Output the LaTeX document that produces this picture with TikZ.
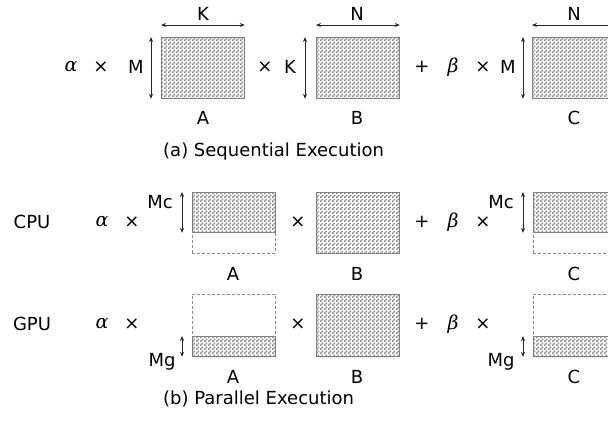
\documentclass[tikz,border=0pt]{standalone}
\usepackage{fontspec}
\setmainfont{DejaVu Sans}
\newfontfamily\greekfont{DejaVu Serif}
\usetikzlibrary{patterns,arrows.meta}

% fine checkerboard used to shade the matrix blocks
\pgfdeclarepatternformonly{finecheck}{\pgfpointorigin}{\pgfpoint{4pt}{4pt}}{\pgfpoint{4pt}{4pt}}{%
  \pgfpathrectangle{\pgfpointorigin}{\pgfpoint{2pt}{2pt}}%
  \pgfpathrectangle{\pgfpoint{2pt}{2pt}}{\pgfpoint{2pt}{2pt}}%
  \pgfusepath{fill}}

\tikzset{
  lbl/.style={font=\fontsize{18}{20}\selectfont, inner sep=0pt, anchor=base},
  sym/.style={font=\fontsize{18}{20}\selectfont, inner sep=0pt},
  grk/.style={font=\fontsize{19}{20}\selectfont\greekfont\itshape, inner sep=0pt},
  mat/.style={draw=black!50, line width=0.8pt, fill=black!6, pattern=finecheck, pattern color=black!48,
    minimum width=83pt, inner sep=0pt, anchor=north west},
  ghost/.style={draw=black!45, dash pattern=on 3pt off 2pt, line width=0.8pt,
    minimum width=83pt, inner sep=0pt, anchor=north west},
  dim/.style={draw=black!85, line width=0.8pt,
    {Stealth[length=5pt,width=4pt]}-{Stealth[length=5pt,width=4pt]}},
}

\begin{document}
\begin{tikzpicture}[x=1pt,y=-1pt]
\useasboundingbox (0,0) rectangle (608,421);
\clip (0,0) rectangle (608,421);

% ---------- (a) sequential execution ----------
\node[grk] (al1) at (71,67) {α};
\node[sym] (x1a) at (101,67) {×};
\node[mat, minimum height=61pt] (A) at (161,37) {};
\draw[dim] ([yshift=12pt]A.north west) -- ([yshift=12pt]A.north east);
\draw[dim] ([xshift=-10pt]A.north west) -- ([xshift=-10pt]A.south west);
\node[lbl] (kA) at (203,20.5) {K};
\node[lbl] (mA) at (136,73.5) {M};
\node[lbl] (nA) at (203,124.5) {A};

\node[sym] (x1b) at (265,67) {×};
\node[mat, minimum height=61pt] (B) at (316,37) {};
\draw[dim] ([yshift=12pt]B.north west) -- ([yshift=12pt]B.north east);
\draw[dim] ([xshift=-11pt]B.north west) -- ([xshift=-11pt]B.south west);
\node[lbl] (nB) at (357,20.5) {N};
\node[lbl] (kB) at (290,73.5) {K};
\node[lbl] (lB) at (357,124.5) {B};

\node[sym] (p1) at (422,67) {+};
\node[grk] (be1) at (453,67) {β};
\node[sym] (x1c) at (483,67) {×};
\node[mat, minimum height=61pt] (C) at (532,37) {};
\draw[dim] ([yshift=12pt]C.north west) -- ([yshift=12pt]C.north east);
\draw[dim] ([xshift=-9pt]C.north west) -- ([xshift=-9pt]C.south west);
\node[lbl] (nC) at (574,20.5) {N};
\node[lbl] (mC) at (508,73.5) {M};
\node[lbl] (lC) at (574,124.5) {C};

\node[lbl, anchor=base west] (capa) at (163,156.5) {(a) Sequential Execution};

% ---------- (b) parallel execution: CPU share ----------
\node[lbl] (cpu) at (32,228.5) {CPU};
\node[grk] (al2) at (102,222) {α};
\node[sym] (x2a) at (132,222) {×};
\node[ghost, minimum height=61pt] (Acg) at (192,192) {};
\node[mat, minimum height=40pt] (Ac) at (192,192) {};
\draw[dim] ([xshift=-10pt]Ac.north west) -- ([xshift=-10pt]Ac.south west);
\node[lbl] (mcA) at (160,208.5) {Mc};
\node[lbl] (lAc) at (233,280.5) {A};

\node[sym] (x2b) at (298,222) {×};
\node[mat, minimum height=61pt] (Bc) at (316,192) {};
\node[lbl] (lBc) at (357,280.5) {B};

\node[sym] (p2) at (422,222) {+};
\node[grk] (be2) at (453,222) {β};
\node[sym] (x2c) at (483,222) {×};
\node[ghost, minimum height=61pt] (Ccg) at (533,192) {};
\node[mat, minimum height=40pt] (Cc) at (533,192) {};
\draw[dim] ([xshift=-10pt]Cc.north west) -- ([xshift=-10pt]Cc.south west);
\node[lbl] (mcC) at (501,208.5) {Mc};
\node[lbl] (lCc) at (574,280.5) {C};

% ---------- (b) parallel execution: GPU share ----------
\node[lbl] (gpu) at (32,330.5) {GPU};
\node[grk] (al3) at (102,324) {α};
\node[sym] (x3a) at (132,324) {×};
\node[ghost, minimum height=62pt] (Agg) at (192,294) {};
\node[mat, minimum height=20pt] (Ag) at (192,336) {};
\draw[dim] ([xshift=-10pt]Ag.north west) -- ([xshift=-10pt]Ag.south west);
\node[lbl] (mgA) at (162,366.5) {Mg};
\node[lbl] (lAg) at (233,383.5) {A};

\node[sym] (x3b) at (298,324) {×};
\node[mat, minimum height=62pt] (Bg) at (316,294) {};
\node[lbl] (lBg) at (357,383.5) {B};

\node[sym] (p3) at (422,324) {+};
\node[grk] (be3) at (453,324) {β};
\node[sym] (x3c) at (483,324) {×};
\node[ghost, minimum height=62pt] (Cgg) at (533,294) {};
\node[mat, minimum height=20pt] (Cg) at (533,336) {};
\draw[dim] ([xshift=-10pt]Cg.north west) -- ([xshift=-10pt]Cg.south west);
\node[lbl] (mgC) at (501,366.5) {Mg};
\node[lbl] (lCg) at (574,383.5) {C};

\node[lbl, anchor=base west] (capb) at (163,404.5) {(b) Parallel Execution};
\end{tikzpicture}
\end{document}
